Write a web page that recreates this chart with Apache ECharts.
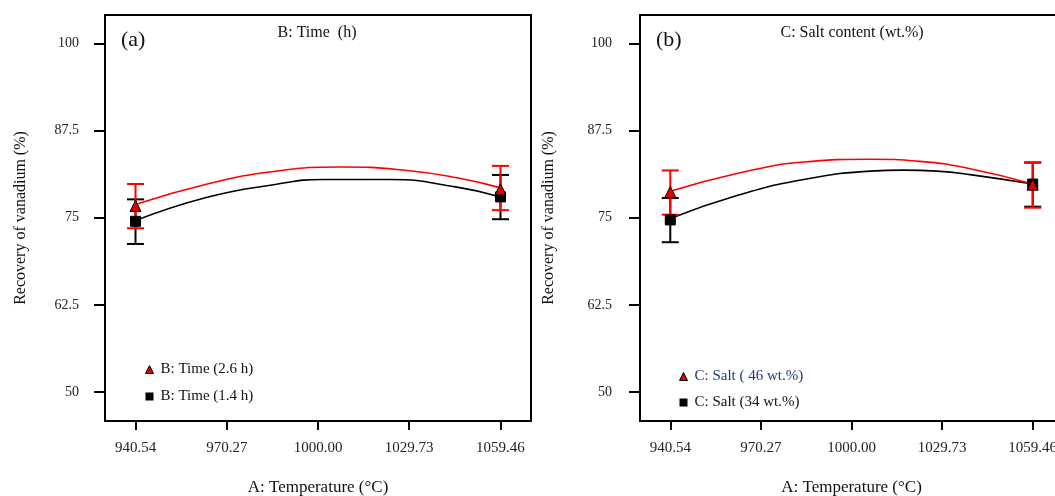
<!DOCTYPE html>
<html>
<head>
<meta charset="utf-8">
<script src="https://cdn.jsdelivr.net/npm/echarts@6/dist/echarts.min.js"></script>
<style>
html,body{margin:0;padding:0;background:#fff;}
#c{width:1055px;height:496px;}
</style>
</head>
<body>
<div id="c"></div>
<script>
// ---- data ----
const xTicks = [940.54, 970.27, 1000.00, 1029.73, 1059.46];
const yTicks = [50, 62.5, 75, 87.5, 100];

// Panel (a): B: Time
const aHighName = 'B: Time (2.6 h)';
const aLowName = 'B: Time (1.4 h)';
const aHighCurve = [[940.54, 76.9], [963.9, 79.85], [985.6, 81.65], [1007.3, 82.3], [1029.0, 81.8], [1045.3, 80.75], [1059.46, 79.3]];
const aLowCurve = [[940.54, 74.6], [963.9, 77.95], [985.6, 79.75], [1001.8, 80.5], [1023.6, 80.5], [1045.3, 79.4], [1059.46, 78.0]];
const aHighPts = [[940.54, 76.7], [1059.46, 79.1]];
const aLowPts = [[940.54, 74.5], [1059.46, 78.0]];
const aHighErr = [[940.54, 73.5, 79.85], [1059.46, 76.1, 82.45]];
const aLowErr = [[940.54, 71.25, 77.65], [1059.46, 74.8, 81.15]];

// Panel (b): C: Salt content
const bHighName = 'C: Salt ( 46 wt.%)';
const bLowName = 'C: Salt (34 wt.%)';
const bHighCurve = [[940.54, 78.8], [962.4, 81.35], [984.3, 83.0], [1006.1, 83.4], [1022.5, 83.1], [1038.9, 82.05], [1059.46, 79.85]];
const bLowCurve = [[940.54, 74.9], [962.4, 78.2], [984.3, 80.5], [1006.1, 81.7], [1017.0, 81.85], [1028.0, 81.7], [1038.9, 81.2], [1059.46, 79.85]];
const bHighPts = [[940.54, 78.7], [1059.46, 79.75]];
const bLowPts = [[940.54, 74.7], [1059.46, 79.85]];
const bHighErr = [[940.54, 75.45, 81.8], [1059.46, 76.45, 82.9]];
const bLowErr = [[940.54, 71.5, 77.85], [1059.46, 76.6, 82.95]];

// ---- chart ----
const FONT = 'Liberation Serif';
const chart = echarts.init(document.getElementById('c'), null, {renderer: 'canvas'});

function xAxisCfg(idx) {
  return {
    gridIndex: idx, type: 'value', min: 930.6, max: 1069.4,
    name: 'A: Temperature (°C)', nameLocation: 'middle', nameGap: 58,
    nameTextStyle: {fontFamily: FONT, fontSize: 17, color: '#111'},
    axisLine: {onZero: false, lineStyle: {color: '#000', width: 2}},
    axisTick: {show: true, length: 9, lineStyle: {color: '#000', width: 2}, customValues: xTicks},
    axisLabel: {fontFamily: FONT, fontSize: 15, color: '#222', margin: 20, customValues: xTicks,
      formatter: v => Number(v).toFixed(2)},
    splitLine: {show: false}
  };
}
function yAxisCfg(idx, margin, gap) {
  return {
    gridIndex: idx, type: 'value', min: 45.85, max: 104.1,
    name: 'Recovery of vanadium (%)', nameLocation: 'middle', nameGap: gap, nameRotate: 90,
    nameTextStyle: {fontFamily: FONT, fontSize: 16, color: '#111'},
    axisLine: {onZero: false, lineStyle: {color: '#000', width: 2}},
    axisTick: {show: true, length: 11, lineStyle: {color: '#000', width: 2}, customValues: yTicks},
    axisLabel: {fontFamily: FONT, fontSize: 14, color: '#222', margin: margin, customValues: yTicks,
      formatter: v => String(v)},
    splitLine: {show: false}
  };
}
function errSeries(name, data, color, idx, z) {
  return {
    name: name, type: 'custom', xAxisIndex: idx, yAxisIndex: idx, z: z, silent: true,
    data: data,
    renderItem: function (params, api) {
      const top = api.coord([api.value(0), api.value(2)]);
      const bot = api.coord([api.value(0), api.value(1)]);
      const hw = 8.5;
      const st = {stroke: color, lineWidth: 2};
      return {type: 'group', children: [
        {type: 'line', shape: {x1: top[0], y1: top[1], x2: bot[0], y2: bot[1]}, style: st},
        {type: 'line', shape: {x1: top[0] - hw, y1: top[1], x2: top[0] + hw, y2: top[1]}, style: st},
        {type: 'line', shape: {x1: bot[0] - hw, y1: bot[1], x2: bot[0] + hw, y2: bot[1]}, style: st}
      ]};
    }
  };
}
function lineSeries(name, data, color, idx, z) {
  return {name: name, type: 'line', xAxisIndex: idx, yAxisIndex: idx, data: data, smooth: true,
    showSymbol: false, silent: true, z: z, lineStyle: {color: color, width: 1.6}, itemStyle: {color: color}};
}
function ptSeries(name, data, symbol, color, idx, z) {
  return {name: name, type: 'scatter', xAxisIndex: idx, yAxisIndex: idx, data: data, symbol: symbol,
    symbolSize: symbol === 'triangle' ? 11 : 10, z: z, silent: true,
    itemStyle: {color: color, borderColor: '#000', borderWidth: 1, opacity: 1}};
}
function legendCfg(left, top, gap, hiName, loName, hiColor) {
  return {
    left: left, top: top, orient: 'vertical', itemGap: gap, itemWidth: 8, itemHeight: 8,
    selectedMode: false,
    textStyle: {fontFamily: FONT, fontSize: 15, color: '#111', padding: [0, 0, 0, 2]},
    data: [
      {name: hiName, icon: 'triangle', itemStyle: {color: '#e00000', borderColor: '#000', borderWidth: 1},
        textStyle: {color: hiColor}},
      {name: loName, icon: 'rect', itemStyle: {color: '#000', borderColor: '#000', borderWidth: 0}}
    ]
  };
}

const option = {
  backgroundColor: '#fff',
  animation: false,
  grid: [
    {left: 105, top: 15, width: 426, height: 406, outerBoundsMode: 'none', show: true, borderColor: '#000', borderWidth: 2, backgroundColor: 'transparent'},
    {left: 640, top: 15, width: 423, height: 406, outerBoundsMode: 'none', show: true, borderColor: '#000', borderWidth: 2, backgroundColor: 'transparent'}
  ],
  xAxis: [xAxisCfg(0), xAxisCfg(1)],
  yAxis: [yAxisCfg(0, 26, 76), yAxisCfg(1, 28, 83)],
  legend: [
    legendCfg(140, 357, 12, aHighName, aLowName, '#111'),
    legendCfg(674, 364, 11, bHighName, bLowName, '#1f3a78')
  ],
  graphic: [
    {type: 'text', left: 121, top: 29, style: {text: '(a)', font: '22px "Liberation Serif"', fill: '#111'}},
    {type: 'text', x: 317, y: 33, style: {text: 'B: Time  (h)', font: '16px "Liberation Serif"', fill: '#111', textAlign: 'center', textVerticalAlign: 'middle'}},
    {type: 'text', left: 656, top: 29, style: {text: '(b)', font: '22px "Liberation Serif"', fill: '#111'}},
    {type: 'text', x: 852, y: 33, style: {text: 'C: Salt content (wt.%)', font: '16px "Liberation Serif"', fill: '#111', textAlign: 'center', textVerticalAlign: 'middle'}}
  ],
  series: [
    lineSeries(aLowName, aLowCurve, '#000', 0, 2),
    lineSeries(aHighName, aHighCurve, '#ff0000', 0, 3),
    errSeries(aLowName, aLowErr, '#000', 0, 4),
    errSeries(aHighName, aHighErr, '#ff0000', 0, 5),
    ptSeries(aLowName, aLowPts, 'rect', '#000', 0, 6),
    ptSeries(aHighName, aHighPts, 'triangle', '#e00000', 0, 7),

    lineSeries(bLowName, bLowCurve, '#000', 1, 2),
    lineSeries(bHighName, bHighCurve, '#ff0000', 1, 3),
    errSeries(bLowName, bLowErr, '#000', 1, 4),
    errSeries(bHighName, bHighErr, '#ff0000', 1, 5),
    ptSeries(bLowName, bLowPts, 'rect', '#000', 1, 6),
    ptSeries(bHighName, bHighPts, 'triangle', '#e00000', 1, 7)
  ]
};
chart.setOption(option);
</script>
</body>
</html>
